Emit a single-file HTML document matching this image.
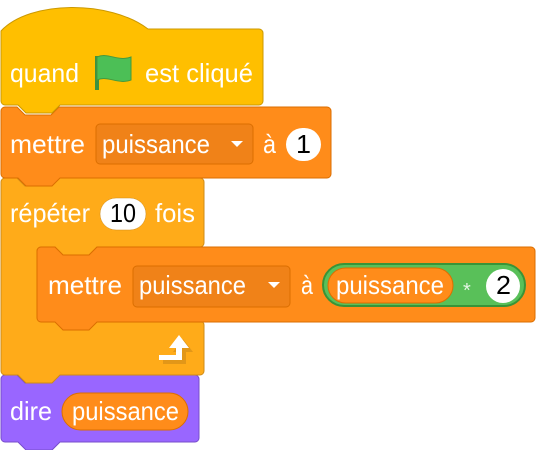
<!DOCTYPE html>
<html><head><meta charset="utf-8"><style>
html,body{margin:0;padding:0;background:#fff;width:536px;height:450px;overflow:hidden}
svg{display:block}
text{font-family:"Liberation Sans",sans-serif;font-size:26px;fill:#fff}
.d{fill:#000}
</style></head><body>
<svg width="536" height="450" viewBox="0 0 536 450" xmlns="http://www.w3.org/2000/svg">
<!-- dire block -->
<path d="M1,379 a4,4 0 0 1 4,-4 H17 l8,8 H51 l8,-8 H195 a4,4 0 0 1 4,4 V438 a4,4 0 0 1 -4,4 H60 l-8,8 H26 l-8,-8 H5 a4,4 0 0 1 -4,-4 Z" fill="#9966FF" stroke="#774DCB" stroke-width="1"/>
<rect x="62" y="393" width="126" height="37" rx="18.5" fill="#FF8C1A" stroke="#DB6E00"/>
<text x="10" y="420" textLength="42" lengthAdjust="spacingAndGlyphs">dire</text>
<text x="72" y="420" textLength="107" lengthAdjust="spacingAndGlyphs">puissance</text>

<!-- repeat C block -->
<path d="M1,182 a4,4 0 0 1 4,-4 H17 l8,8 H51 l8,-8 H200 a4,4 0 0 1 4,4 V243 a4,4 0 0 1 -4,4 H97 l-8,8 H63 l-8,-8 H41 a4,4 0 0 0 -4,4 V317 a4,4 0 0 0 4,4 H200 a4,4 0 0 1 4,4 V371 a4,4 0 0 1 -4,4 H60 l-8,8 H26 l-8,-8 H5 a4,4 0 0 1 -4,-4 Z" fill="#FFAB19" stroke="#CF8B17" stroke-width="1"/>
<rect x="100" y="198" width="46" height="32" rx="16" fill="#fff" stroke="#CF8B17" stroke-width="0.5"/>
<text x="10" y="222" textLength="80" lengthAdjust="spacingAndGlyphs">répéter</text>
<text class="d" x="110" y="222" textLength="26" lengthAdjust="spacingAndGlyphs">10</text>
<text x="155" y="222" textLength="40" lengthAdjust="spacingAndGlyphs">fois</text>
<!-- loop arrow -->
<path d="M161,362 H184 V350 H191 L181,337 L171,350 H178 V357 H161 Z" fill="#CF8B17" opacity="0.6" transform="translate(2,2)"/>
<path d="M159,360 H182 V348 H189 L179,335 L169,348 H176 V355 H159 Z" fill="#fff"/>

<!-- inner mettre -->
<path d="M37,251 a4,4 0 0 1 4,-4 H55 l8,8 H89 l8,-8 H531 a4,4 0 0 1 4,4 V318 a4,4 0 0 1 -4,4 H97 l-8,8 H63 l-8,-8 H41 a4,4 0 0 1 -4,-4 Z" fill="#FF8C1A" stroke="#DB6E00" stroke-width="1"/>
<rect x="133" y="266" width="157" height="41" rx="4" fill="#F08218" stroke="#DB6E00"/>
<path d="M268,282 h12 l-6,6 z" fill="#fff"/>
<rect x="323" y="264" width="202" height="42" rx="21" fill="#59C059" stroke="#389438" stroke-width="2"/>
<rect x="328" y="268" width="125" height="35" rx="17.5" fill="#FF8C1A" stroke="#DB6E00"/>
<circle cx="503" cy="286" r="17" fill="#fff"/>
<text x="48" y="294" textLength="74" lengthAdjust="spacingAndGlyphs">mettre</text>
<text x="139" y="294" textLength="107" lengthAdjust="spacingAndGlyphs">puissance</text>
<text x="301" y="294" textLength="12" lengthAdjust="spacingAndGlyphs">à</text>
<text x="336" y="294" textLength="108" lengthAdjust="spacingAndGlyphs">puissance</text>
<text x="463" y="297" style="font-size:20px;fill:#e4f5e4">*</text>
<text class="d" x="496" y="294" textLength="15" lengthAdjust="spacingAndGlyphs">2</text>

<!-- first mettre -->
<path d="M1,111 a4,4 0 0 1 4,-4 H17 l8,8 H51 l8,-8 H327 a4,4 0 0 1 4,4 V174 a4,4 0 0 1 -4,4 H60 l-8,8 H26 l-8,-8 H5 a4,4 0 0 1 -4,-4 Z" fill="#FF8C1A" stroke="#DB6E00" stroke-width="1"/>
<rect x="96" y="124" width="157" height="40" rx="4" fill="#F08218" stroke="#DB6E00"/>
<path d="M231,141 h12 l-6,6 z" fill="#fff"/>
<rect x="286" y="128" width="35" height="33" rx="16.5" fill="#fff"/>
<text x="10" y="153" textLength="75" lengthAdjust="spacingAndGlyphs">mettre</text>
<text x="102" y="153" textLength="108" lengthAdjust="spacingAndGlyphs">puissance</text>
<text x="263" y="153" textLength="13" lengthAdjust="spacingAndGlyphs">à</text>
<text class="d" x="296" y="153" textLength="15" lengthAdjust="spacingAndGlyphs">1</text>

<!-- hat block -->
<path d="M1,31 C30,0 110,0 148,29 H259 a4,4 0 0 1 4,4 V101 a4,4 0 0 1 -4,4 H60 l-8,8 H26 l-8,-8 H5 a4,4 0 0 1 -4,-4 Z" fill="#FFBF00" stroke="#CC9900" stroke-width="1"/>
<rect x="95" y="56" width="4" height="34" fill="#3D9140"/>
<path d="M97,57 C108,52 118,62 131,57 V80 C118,85 108,75 97,80 Z" fill="#4CBF56" stroke="#45993D" stroke-width="1"/>
<text x="10" y="82" textLength="69" lengthAdjust="spacingAndGlyphs">quand</text>
<text x="145" y="82" textLength="108" lengthAdjust="spacingAndGlyphs">est cliqué</text>
</svg>
</body></html>
